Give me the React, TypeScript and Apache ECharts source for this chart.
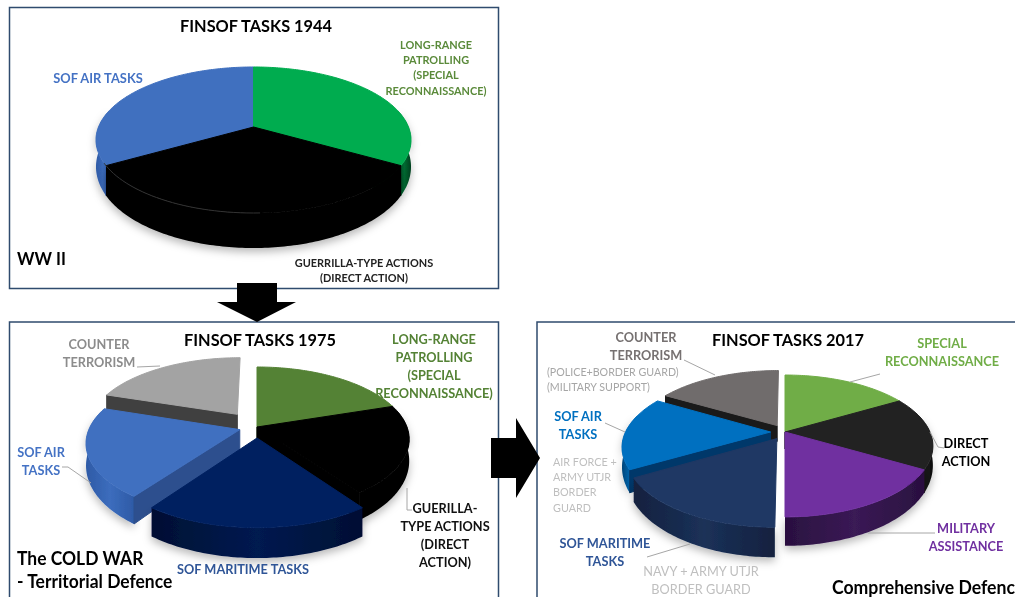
import React, { useEffect, useRef } from "react";
import * as echarts from "echarts";

// ---- data (share of each task) ----
const categories1944 = ["LONG-RANGE PATROLLING", "GUERRILLA-TYPE ACTIONS", "SOF AIR TASKS"];
const values1944 = [33.3, 33.4, 33.3];

const categories1975 = ["LONG-RANGE PATROLLING", "GUERILLA-TYPE ACTIONS", "SOF MARITIME TASKS", "SOF AIR TASKS", "COUNTER TERRORISM"];
const values1975 = [20, 20, 20, 20, 20];

const categories2017 = ["SPECIAL RECONNAISSANCE", "DIRECT ACTION", "MILITARY ASSISTANCE", "SOF MARITIME TASKS", "SOF AIR TASKS", "COUNTER TERRORISM"];
const values2017 = [16.67, 16.67, 16.66, 16.67, 16.67, 16.66];

// ---- styles and layout ----
type Pie = {
  name: string; names: string[]; values: number[]; cx: number; cy: number; A: number; B: number; k: number; D: number; m: number;
  explode: number[]; top: string[]; wall: string[][]; side: string[]; rim?: { index: number; from: number; to: number; color: string };
};

const pies: Pie[] = [
  {
    name: "FINSOF TASKS 1944", names: categories1944, values: values1944,
    cx: 253.5, cy: 127, A: 155, B: 70.7, k: 0.178, D: 25, m: 0.4,
    explode: [0, 0, 0],
    top: ["#00ac4f", "#000000", "#4070bf"],
    wall: [["#00401e", "#006a32"], ["#000000", "#000000"], ["#2e5aa6", "#3a69b8"]],
    side: ["#00451f", "#000000", "#2e5aa6"],
    rim: { index: 1, from: 178, to: 242, color: "#333333" },
  },
  {
    name: "FINSOF TASKS 1975", names: categories1975, values: values1975,
    cx: 257, cy: 427, A: 150, B: 70.2, k: 0.17, D: 20, m: 0.45,
    explode: [0, 0, 0.153, 0.12, 0.23],
    top: ["#548235", "#000000", "#002060", "#4070c0", "#a3a3a3"],
    wall: [["#2f4a1e", "#3a5a25"], ["#000000", "#000000"], ["#000f33", "#001a50"], ["#2e5aa6", "#3c6dbd"], ["#404040", "#404040"]],
    side: ["#2f4a1e", "#000000", "#001645", "#2d4f8e", "#404040"],
  },
  {
    name: "FINSOF TASKS 2017", names: categories2017, values: values2017,
    cx: 785, cy: 432, A: 145, B: 68.2, k: 0.197, D: 17, m: 0.7,
    explode: [0, 0, 0, 0.11, 0.1, 0.11],
    top: ["#70ad47", "#222222", "#7030a0", "#1f3864", "#0070c0", "#706c6c"],
    wall: [["#3a5a25", "#4a7030"], ["#0c0c0c", "#1a1a1a"], ["#2a1040", "#3a1a55"], ["#12213f", "#1b3158"], ["#00467a", "#0064ac"], ["#222222", "#333333"]],
    side: ["#3a5a25", "#0f0f0f", "#2a1040", "#12213f", "#00386a", "#1a1a1a"],
  },
];

const FRAME = "#2f4b6e";
const frames = [
  [9.5, 7.5, 489, 281],
  [9.5, 322, 489, 320],
  [537, 322, 600, 320],
];

type Lbl = { t: string; x: number; y: number; c: string; s?: number; w?: string; lh?: number; a?: string; z?: number; sx?: number };
const labels: Lbl[] = [
  { t: "FINSOF TASKS 1944", x: 256, y: 26, c: "#000000", s: 17, sx: 0.96 },
  { t: "LONG-RANGE\nPATROLLING\n(SPECIAL\nRECONNAISSANCE)", x: 436, y: 67, c: "#5a8a3a", s: 12, lh: 15.4 },
  { t: "SOF AIR TASKS", x: 98, y: 78, c: "#4472c4", s: 13, sx: 0.99 },
  { t: "GUERRILLA-TYPE ACTIONS\n(DIRECT ACTION)", x: 364, y: 270, c: "#222222", s: 12, lh: 15 },
  { t: "WW II", x: 17, y: 258, c: "#000000", s: 17, a: "left", sx: 0.98 },

  { t: "FINSOF TASKS 1975", x: 260, y: 340, c: "#000000", s: 17, sx: 0.96 },
  { t: "LONG-RANGE\nPATROLLING\n(SPECIAL\nRECONNAISSANCE)", x: 434, y: 366, c: "#548235", s: 14, lh: 18, z: 1 },
  { t: "COUNTER\nTERRORISM", x: 99, y: 353, c: "#8c8c8c", s: 14, lh: 18 },
  { t: "SOF AIR\nTASKS", x: 41, y: 461, c: "#4472c4", s: 14, lh: 18 },
  { t: "GUERILLA-\nTYPE ACTIONS\n(DIRECT\nACTION)", x: 445, y: 535, c: "#111111", s: 14, lh: 18 },
  { t: "SOF MARITIME TASKS", x: 243, y: 569, c: "#2f5597", s: 14 },
  { t: "The COLD WAR\n- Territorial Defence", x: 17, y: 570, c: "#000000", s: 18, lh: 23, a: "left", sx: 0.97 },

  { t: "FINSOF TASKS 2017", x: 788, y: 340, c: "#000000", s: 17, sx: 0.96 },
  { t: "COUNTER\nTERRORISM", x: 646, y: 346, c: "#767171", s: 14, lh: 18 },
  { t: "(POLICE+BORDER GUARD)\n(MILITARY SUPPORT)", x: 547, y: 379, c: "#a6a6a6", s: 12, lh: 15, a: "left", w: "normal", sx: 0.89 },
  { t: "SOF AIR\nTASKS", x: 578, y: 425, c: "#0070c0", s: 14, lh: 18 },
  { t: "AIR FORCE +\nARMY UTJR\nBORDER\nGUARD", x: 553, y: 484, c: "#bfbfbf", s: 12, lh: 15.4, a: "left", w: "normal", sx: 0.9 },
  { t: "SOF MARITIME\nTASKS", x: 605, y: 552, c: "#2f5597", s: 14, lh: 18 },
  { t: "NAVY + ARMY UTJR\nBORDER GUARD", x: 701, y: 580, c: "#bfbfbf", s: 13, lh: 18, w: "normal", sx: 0.98 },
  { t: "SPECIAL\nRECONNAISSANCE", x: 942, y: 352, c: "#70ad47", s: 14, lh: 18 },
  { t: "DIRECT\nACTION", x: 966, y: 452, c: "#000000", s: 14, lh: 18 },
  { t: "MILITARY\nASSISTANCE", x: 966, y: 537, c: "#7030a0", s: 14, lh: 18 },
  { t: "Comprehensive Defence", x: 832, y: 587, c: "#000000", s: 18, a: "left", sx: 0.98 },
];

const leaders: number[][][] = [
  [[137, 367], [160, 366]],
  [[62, 467], [68, 467], [91, 483]],
  [[407, 488], [407, 510], [412, 510]],
  [[684, 360], [715, 375]],
  [[880, 374], [850, 382]],
  [[605, 423], [625, 432]],
  [[944, 448], [938, 447], [930, 432]],
  [[935, 533], [868, 533]],
  [[647, 557], [690, 544]],
];

const DEG = Math.PI / 180;

function project(p: Pie, u: number, v: number): number[] {
  const w = 1 - p.k * v;
  return [p.cx + (p.A * u) / w, p.cy + (p.B * v) / w];
}
const drop = (p: Pie, v: number) => p.D * (1 + p.m * v);

function rimPoint(p: Pie, deg: number, ou: number, ov: number) {
  const u = Math.sin(deg * DEG) + ou;
  const v = -Math.cos(deg * DEG) + ov;
  const s = project(p, u, v);
  return { top: s, low: [s[0], s[1] + drop(p, v)] };
}

function gradient(pair: string[]) {
  return new echarts.graphic.LinearGradient(0, 0, 1, 0, [
    { offset: 0, color: pair[0] },
    { offset: 0.5, color: pair[1] },
    { offset: 1, color: pair[0] },
  ]);
}

function makeRender(p: Pie) {
  return (_params: any, api: any) => {
    const i = api.value(0) as number;
    const a0 = api.value(1) as number;
    const a1 = api.value(2) as number;
    const mid = (a0 + a1) / 2;
    const e = p.explode[i];
    const ou = Math.sin(mid * DEG) * e;
    const ov = -Math.cos(mid * DEG) * e;
    const apex = project(p, ou, ov);
    const apexLow = [apex[0], apex[1] + drop(p, ov)];

    const tops: number[][] = [];
    const upper: number[][] = [];
    const lower: number[][] = [];
    const n = Math.max(2, Math.ceil(a1 - a0));
    for (let j = 0; j <= n; j++) {
      const d = a0 + ((a1 - a0) * j) / n;
      const r = rimPoint(p, d, ou, ov);
      tops.push(r.top);
      if (Math.cos(d * DEG) < 0.25) { upper.push(r.top); lower.push(r.low); }
    }

    const children: any[] = [];
    if (upper.length > 1) {
      children.push({
        type: "polygon",
        shape: { points: upper.concat(lower.reverse()) },
        style: { fill: gradient(p.wall[i]), shadowColor: "rgba(0,0,0,0.28)", shadowBlur: 9, shadowOffsetY: 4 },
      });
    }
    // radial walls that face the viewer
    const sideStyle = { fill: p.side[i], stroke: p.side[i], lineWidth: 1 };
    if (Math.sin(a0 * DEG) < -1e-6) {
      const r = rimPoint(p, a0, ou, ov);
      children.push({ type: "polygon", shape: { points: [apex, r.top, r.low, apexLow] }, style: sideStyle });
    }
    if (Math.sin(a1 * DEG) > 1e-6) {
      const r = rimPoint(p, a1, ou, ov);
      children.push({ type: "polygon", shape: { points: [apex, r.top, r.low, apexLow] }, style: sideStyle });
    }
    // top face
    children.push({ type: "polygon", shape: { points: [apex, ...tops] }, style: { fill: p.top[i], stroke: p.top[i], lineWidth: 1 } });
    if (p.rim && p.rim.index === i) {
      const pts: number[][] = [];
      for (let d = p.rim.from; d <= p.rim.to; d += 2) pts.push(rimPoint(p, d, ou, ov).top);
      children.push({ type: "polyline", shape: { points: pts }, style: { fill: "none", stroke: p.rim.color, lineWidth: 1 } });
    }
    return { type: "group", children };
  };
}

function pieSeries(p: Pie) {
  const total = p.values.reduce((s, x) => s + x, 0);
  let acc = 0;
  const rows = p.values.map((val, i) => {
    const start = (acc / total) * 360;
    acc += val;
    return { name: p.names[i], value: [i, start, (acc / total) * 360] };
  });
  // paint from the back of the pie to the front
  rows.sort((a, b) => {
    const ma = (a.value[1] + a.value[2]) / 2;
    const mb = (b.value[1] + b.value[2]) / 2;
    return -Math.cos(ma * DEG) - -Math.cos(mb * DEG);
  });
  return { type: "custom", name: p.name, coordinateSystem: "none", z: 2, renderItem: makeRender(p), data: rows, silent: true };
}

export default function App() {
  const ref = useRef<HTMLDivElement>(null);
  useEffect(() => {
    document.body.style.margin = "0";
    document.body.style.overflow = "hidden";
    const chart = echarts.init(ref.current!, undefined, { renderer: "svg" });
    const graphic: any[] = [
      ...frames.map((f) => ({
        type: "rect", z: 0, silent: true,
        shape: { x: f[0], y: f[1], width: f[2], height: f[3] },
        style: { fill: "none", stroke: FRAME, lineWidth: 1.5 },
      })),
      { type: "polygon", z: 5, shape: { points: [[237, 283], [277, 283], [277, 302], [296, 302], [257, 322], [217, 302], [237, 302]] }, style: { fill: "#000000" } },
      { type: "polygon", z: 5, shape: { points: [[491, 438], [516, 438], [516, 418], [540, 458], [516, 498], [516, 478], [491, 478]] }, style: { fill: "#000000" } },
      ...leaders.map((pts) => ({
        type: "polyline", z: 6, shape: { points: pts },
        style: { fill: "none", stroke: "#a6a6a6", lineWidth: 1 },
      })),
      ...labels.map((l) => ({
        type: "text", z: l.z ?? 10, x: l.x, y: l.y, scaleX: l.sx ?? 0.91,
        style: {
          text: l.t, x: 0, y: 0, fill: l.c,
          font: `${l.w ?? "bold"} ${l.s ?? 14}px Lato, Carlito, sans-serif`,
          lineHeight: l.lh ?? 18,
          align: l.a ?? "center",
          verticalAlign: "middle",
        },
      })),
    ];
    chart.setOption({
      animation: false,
      backgroundColor: "#ffffff",
      series: pies.map(pieSeries),
      graphic,
    });
    return () => chart.dispose();
  }, []);
  return <div ref={ref} style={{ width: 1015, height: 597, filter: "blur(0.4px)" }} />;
}
